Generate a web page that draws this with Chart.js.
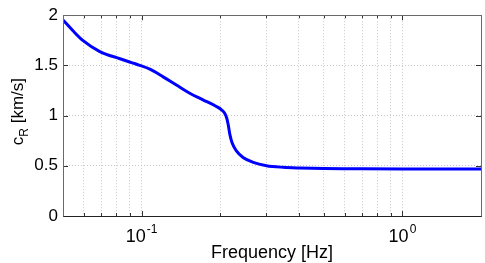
<!DOCTYPE html>
<html>
<head>
<meta charset="utf-8">
<script src="https://cdn.jsdelivr.net/npm/chart.js@4"></script>
<style>
  html, body { margin: 0; padding: 0; background: #fff; }
  #wrap { width: 485px; height: 263px; position: relative; }
</style>
</head>
<body>
<div id="wrap"><canvas id="c"></canvas></div>
<script>
// frequency [Hz] and Rayleigh phase velocity [km/s]
var FREQ_HZ = [0.05, 0.0546, 0.0597, 0.0692, 0.0827, 0.0985, 0.1076, 0.121, 0.136, 0.153, 0.172,
  0.1936, 0.2025, 0.208, 0.212, 0.2148, 0.218, 0.2223, 0.231, 0.245, 0.268, 0.301, 0.349, 0.404,
  0.5, 0.7, 1.0, 1.5, 2.0];
var C_R = [1.953, 1.845, 1.746, 1.638, 1.566, 1.50, 1.462, 1.386, 1.304, 1.222, 1.157,
  1.091, 1.058, 1.025, 0.976, 0.911, 0.813, 0.73, 0.649, 0.583, 0.534, 0.501, 0.485, 0.478,
  0.472, 0.47, 0.469, 0.469, 0.469];

var X_MIN = 0.05, X_MAX = 2;
var X_GRID = [0.06, 0.07, 0.08, 0.09, 0.1, 0.2, 0.3, 0.4, 0.5, 0.6, 0.7, 0.8, 0.9, 1];
var X_MAJOR = [0.1, 1];
var X_EXP = ["-1", "0"];
var Y_TICKS = [0, 0.5, 1, 1.5, 2];

var FONT = "'Liberation Sans', Arial, Helvetica, sans-serif";

var points = [];
for (var i = 0; i < FREQ_HZ.length; i++) points.push({ x: FREQ_HZ[i], y: C_R[i] });

// box, inward ticks, and the labels that need super/subscripts
var matlabAxes = {
  id: "matlabAxes",
  afterDraw: function (chart) {
    var ctx = chart.ctx;
    var a = chart.chartArea;
    var xs = chart.scales.x, ys = chart.scales.y;
    ctx.save();

    // tick marks
    ctx.strokeStyle = "#333";
    ctx.lineWidth = 1;
    ctx.beginPath();
    for (var i = 0; i < X_GRID.length; i++) {
      var px = Math.round(xs.getPixelForValue(X_GRID[i])) + 0.5;
      var len = X_MAJOR.indexOf(X_GRID[i]) >= 0 ? 5 : 3;
      ctx.moveTo(px, a.bottom); ctx.lineTo(px, a.bottom - len);
      ctx.moveTo(px, a.top); ctx.lineTo(px, a.top + len);
    }
    for (var j = 1; j < Y_TICKS.length - 1; j++) {
      var py = Math.round(ys.getPixelForValue(Y_TICKS[j])) + 0.5;
      ctx.moveTo(a.left, py); ctx.lineTo(a.left + 5, py);
      ctx.moveTo(a.right, py); ctx.lineTo(a.right - 5, py);
    }
    ctx.stroke();

    // axes box
    ctx.strokeStyle = "#6a6a6a";
    ctx.strokeRect(Math.round(a.left) + 0.5, Math.round(a.top) + 0.5,
      Math.round(a.right - a.left), Math.round(a.bottom - a.top));
    ctx.strokeStyle = "#222";
    ctx.beginPath();
    ctx.moveTo(Math.round(a.left) + 0.5, Math.round(a.bottom) + 0.5);
    ctx.lineTo(Math.round(a.right) + 0.5, Math.round(a.bottom) + 0.5);
    ctx.stroke();

    // x tick labels 10^n
    ctx.fillStyle = "#000";
    ctx.textBaseline = "alphabetic";
    ctx.textAlign = "left";
    for (var k = 0; k < X_MAJOR.length; k++) {
      ctx.font = "18px " + FONT;
      var wb = ctx.measureText("10").width;
      ctx.font = "12px " + FONT;
      var we = ctx.measureText(X_EXP[k]).width;
      var cx = xs.getPixelForValue(X_MAJOR[k]);
      var x0 = cx - (wb + we + 1) / 2;
      ctx.font = "18px " + FONT;
      ctx.fillText("10", x0, a.bottom + 26);
      ctx.font = "12px " + FONT;
      ctx.fillText(X_EXP[k], x0 + wb + 1, a.bottom + 17);
    }

    // x title
    ctx.font = "18px " + FONT;
    ctx.textAlign = "center";
    ctx.fillText("Frequency [Hz]", (a.left + a.right) / 2, a.bottom + 42);

    // y title c_R [km/s]
    ctx.font = "17px " + FONT;
    var w1 = ctx.measureText("c").width;
    var w3 = ctx.measureText(" [km/s]").width;
    ctx.font = "12px " + FONT;
    var w2 = ctx.measureText("R").width;
    var total = w1 + w2 + w3;
    ctx.translate(23, (a.top + a.bottom) / 2 - 4);
    ctx.rotate(-Math.PI / 2);
    ctx.textAlign = "left";
    ctx.font = "17px " + FONT;
    ctx.fillText("c", -total / 2, 0);
    ctx.font = "12px " + FONT;
    ctx.fillText("R", -total / 2 + w1, 5);
    ctx.font = "17px " + FONT;
    ctx.fillText(" [km/s]", -total / 2 + w1 + w2, 0);

    ctx.restore();
  }
};

new Chart(document.getElementById("c"), {
  type: "line",
  data: {
    datasets: [{
      data: points,
      borderColor: "#0000ff",
      borderWidth: 3,
      pointRadius: 0,
      fill: false,
      cubicInterpolationMode: "monotone"
    }]
  },
  options: {
    responsive: true,
    maintainAspectRatio: false,
    animation: false,
    events: [],
    layout: { padding: { top: 12, right: 4, bottom: 47, left: 0 } },
    plugins: { legend: { display: false }, tooltip: { enabled: false } },
    scales: {
      x: {
        type: "logarithmic",
        min: X_MIN,
        max: X_MAX,
        afterBuildTicks: function (scale) {
          scale.ticks = X_GRID.map(function (v) { return { value: v }; });
        },
        ticks: { display: false },
        grid: { color: "#c8c8c8", lineWidth: 1, drawTicks: false },
        border: { display: false, dash: [1, 2] }
      },
      y: {
        type: "linear",
        min: 0,
        max: 2,
        afterBuildTicks: function (scale) {
          scale.ticks = Y_TICKS.map(function (v) { return { value: v }; });
        },
        afterFit: function (scale) { scale.width = 63; },
        ticks: {
          padding: 5,
          color: "#000",
          font: { family: FONT, size: 17 },
          callback: function (v) { return String(v); }
        },
        grid: { color: "#c8c8c8", lineWidth: 1, drawTicks: false },
        border: { display: false, dash: [1, 2] }
      }
    }
  },
  plugins: [matlabAxes]
});
</script>
</body>
</html>
